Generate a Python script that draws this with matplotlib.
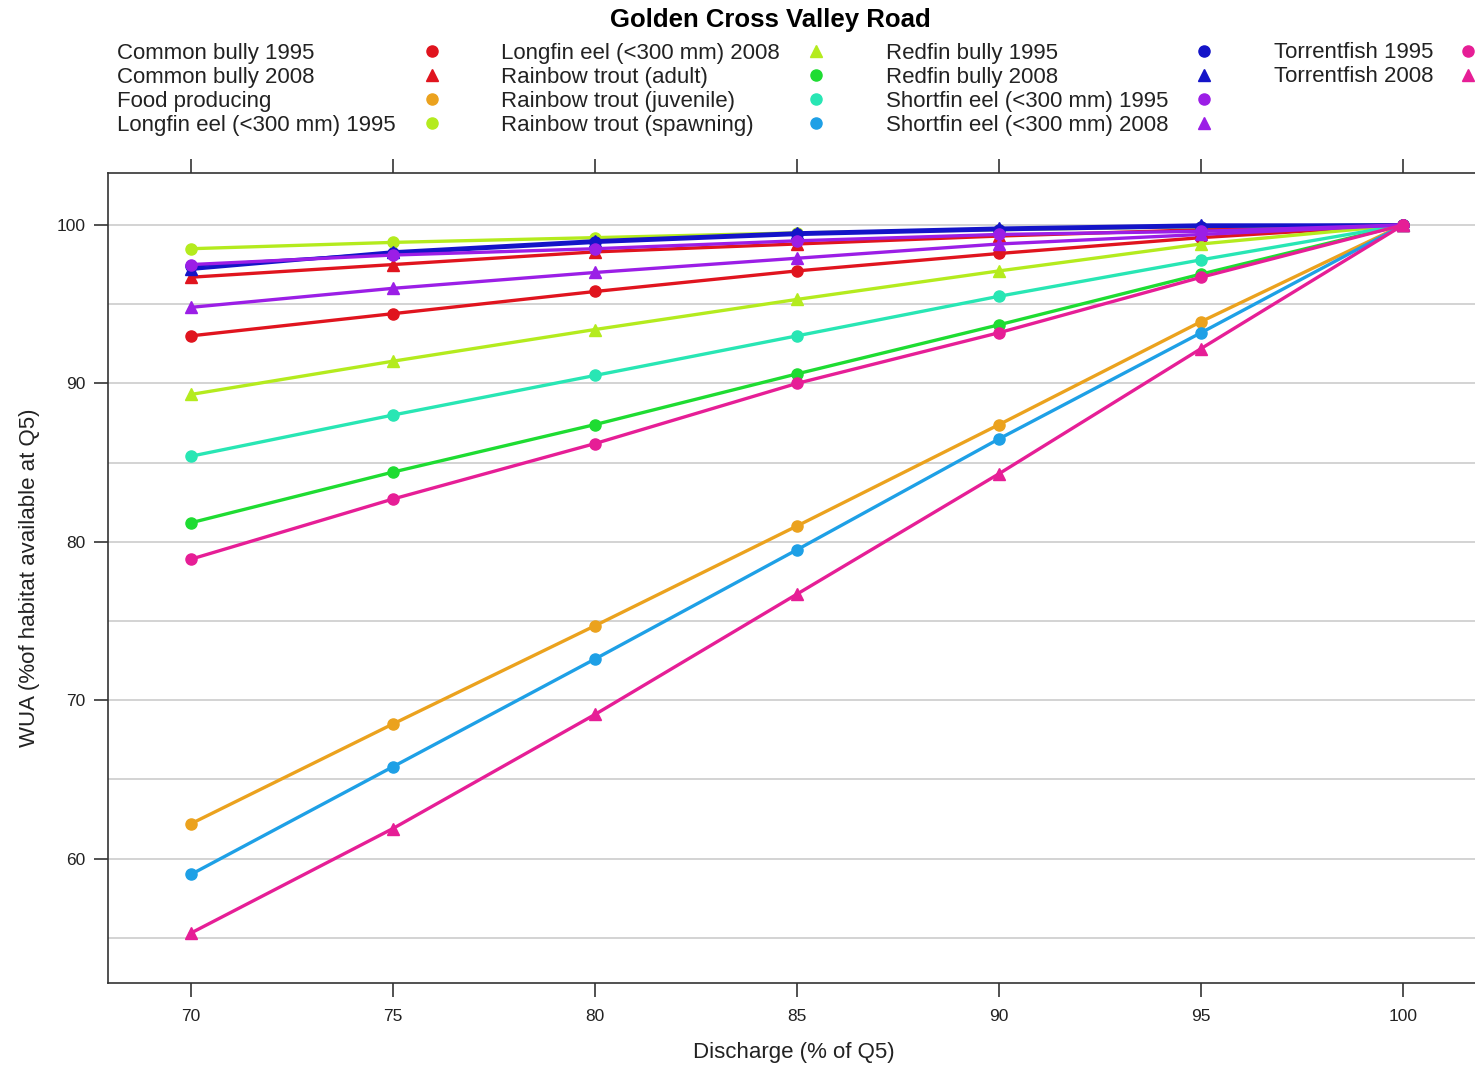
import matplotlib
matplotlib.use('Agg')
import matplotlib.pyplot as plt
from matplotlib.lines import Line2D

plt.rcParams['font.family'] = ['Liberation Sans', 'DejaVu Sans']

discharge = [70, 75, 80, 85, 90, 95, 100]

common_bully_1995 = [93.0, 94.4, 95.8, 97.1, 98.2, 99.2, 100]
common_bully_2008 = [96.7, 97.5, 98.3, 98.8, 99.3, 99.7, 100]
food_producing = [62.2, 68.5, 74.7, 81.0, 87.4, 93.9, 100]
longfin_1995 = [98.5, 98.9, 99.2, 99.5, 99.7, 99.9, 100]
longfin_2008 = [89.3, 91.4, 93.4, 95.3, 97.1, 98.8, 100]
rt_adult = [81.2, 84.4, 87.4, 90.6, 93.7, 96.9, 100]
rt_juvenile = [85.4, 88.0, 90.5, 93.0, 95.5, 97.8, 100]
rt_spawning = [59.0, 65.8, 72.6, 79.5, 86.5, 93.2, 100]
redfin_1995 = [97.4, 98.2, 98.9, 99.4, 99.7, 99.9, 100]
redfin_2008 = [97.2, 98.3, 99.0, 99.5, 99.8, 100.0, 100]
shortfin_1995 = [97.5, 98.1, 98.5, 99.0, 99.4, 99.6, 100]
shortfin_2008 = [94.8, 96.0, 97.0, 97.9, 98.8, 99.4, 100]
torrent_1995 = [78.9, 82.7, 86.2, 90.0, 93.2, 96.7, 100]
torrent_2008 = [55.3, 61.9, 69.1, 76.7, 84.3, 92.2, 100]

labels = ['Common bully 1995', 'Common bully 2008', 'Food producing',
          'Longfin eel (<300 mm) 1995', 'Longfin eel (<300 mm) 2008',
          'Rainbow trout (adult)', 'Rainbow trout (juvenile)', 'Rainbow trout (spawning)',
          'Redfin bully 1995', 'Redfin bully 2008',
          'Shortfin eel (<300 mm) 1995', 'Shortfin eel (<300 mm) 2008',
          'Torrentfish 1995', 'Torrentfish 2008']
series = [common_bully_1995, common_bully_2008, food_producing,
          longfin_1995, longfin_2008, rt_adult, rt_juvenile, rt_spawning,
          redfin_1995, redfin_2008, shortfin_1995, shortfin_2008,
          torrent_1995, torrent_2008]

red = '#E0141E'
orange = '#EBA21E'
lime = '#B4EB1E'
green = '#1EDC32'
aqua = '#28E6B4'
sky = '#1EA0E6'
blue = '#1414C8'
purple = '#9B1EE6'
pink = '#E61E96'
colors = [red, red, orange, lime, lime, green, aqua, sky, blue, blue,
          purple, purple, pink, pink]
markers = ['o', '^', 'o', 'o', '^', 'o', 'o', 'o', 'o', '^', 'o', '^', 'o', '^']

W, H = 1475, 1065
fig = plt.figure(figsize=(W / 100, H / 100), dpi=100)
ax = fig.add_axes([108 / W, (H - 983) / H, (1480 - 108) / W, (983 - 173) / H])

for yv in range(55, 101, 5):
    ax.axhline(yv, color='#C8C8C8', lw=1.1, zorder=0)

for vals, c, m in zip(series, colors, markers):
    ax.plot(discharge, vals, color=c, lw=2.4, marker=m, ms=8, mec=c, zorder=2)

ax.set_xlim(67.95, 101.9)
ax.set_ylim(52.15, 103.28)
ax.set_xticks([70, 75, 80, 85, 90, 95, 100])
ax.set_yticks([60, 70, 80, 90, 100])
ax.tick_params(axis='both', direction='out', length=10, width=1.2, labelsize=12.5,
               color='#333333', labelcolor='#222222')
ax.tick_params(axis='x', top=True, pad=9)
ax.tick_params(axis='y', pad=6)
ax.spines['right'].set_visible(False)
for s in ['left', 'bottom', 'top']:
    ax.spines[s].set_linewidth(1.2)
    ax.spines[s].set_color('#333333')

ax.set_xlabel('Discharge (% of Q5)', fontsize=16, color='#222222', labelpad=13)
ax.set_ylabel('WUA (%of habitat available at Q5)', fontsize=16, color='#222222', labelpad=12)

fig.text(770 / W, 1 - 20 / H, 'Golden Cross Valley Road', ha='center', va='center',
         fontsize=18.5, fontweight='bold')

# key in lattice style: text left, symbol to the right, four rows per column
text_x = [117, 501, 886, 1274]
mark_x = [432, 816, 1204, 1468]
row_y = [53, 77, 101, 125]
for i, lab in enumerate(labels):
    col, row = i // 4, i % 4
    y = 1 - row_y[row] / H
    fig.text(text_x[col] / W, y, lab, ha='left', va='center', fontsize=16, color='#222222')
    fig.add_artist(Line2D([mark_x[col] / W], [1 - (row_y[row] - 2) / H], transform=fig.transFigure,
                          marker=markers[i], color=colors[i], ms=8, ls='none'))

fig.savefig('out.png', dpi=100)
